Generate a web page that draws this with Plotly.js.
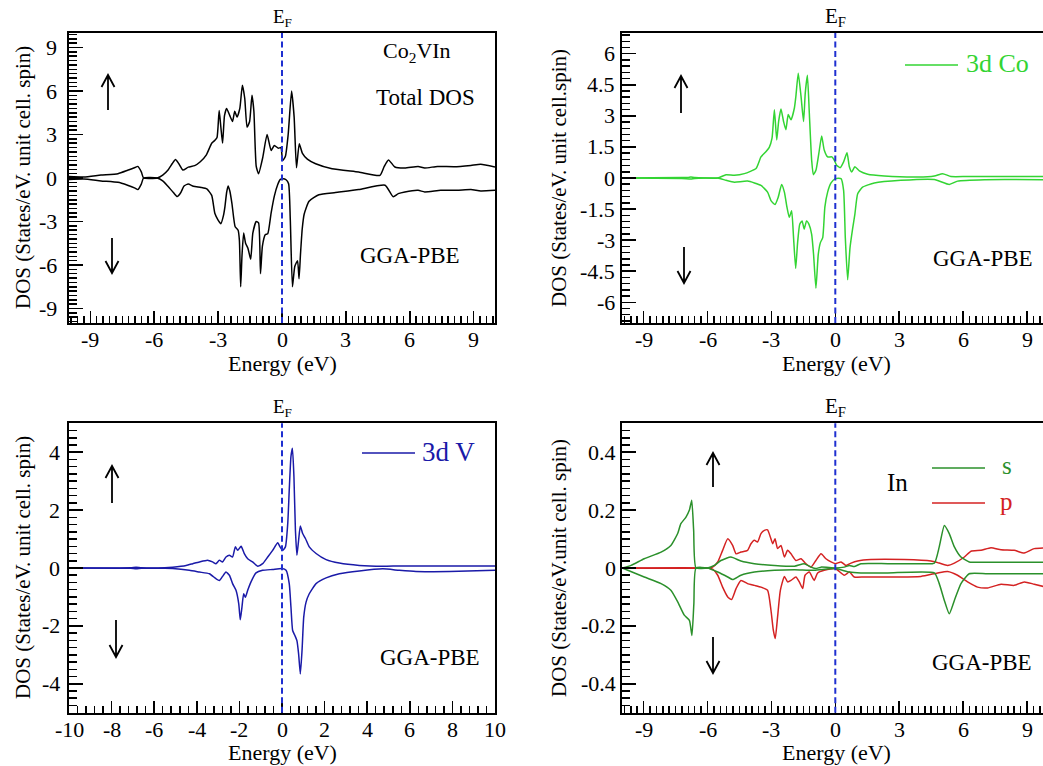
<!DOCTYPE html>
<html>
<head>
<meta charset="utf-8">
<script src="https://cdn.plot.ly/plotly-3.0.1.min.js"></script>
<style>
  html, body { margin: 0; padding: 0; overflow: hidden; background: #fff; }
  #plot { width: 1050px; height: 766px; }
</style>
</head>
<body>
<div id="plot"></div>
<script>
// ---------- Co2VIn density of states (GGA-PBE) ----------

// Total DOS, spin up / spin down
const totalUpE = [-10, -9.3, -8.5, -7.7, -7.25, -6.9, -6.77, -6.6, -6.5, -5.86, -5.6, -5.35, -5.15, -5.0, -4.85, -4.65, -4.4, -4.1, -3.85, -3.55, -3.3, -3.15, -3.05, -2.95, -2.87, -2.79, -2.7, -2.6, -2.45, -2.32, -2.22, -2.11, -1.98, -1.86, -1.75, -1.64, -1.52, -1.41, -1.32, -1.21, -1.1, -0.9, -0.7, -0.51, -0.36, -0.17, -0.05, 0.03, 0.16, 0.29, 0.45, 0.57, 0.68, 0.81, 0.96, 1.19, 1.58, 2.35, 3.6, 4.6, 4.8, 5.0, 5.3, 5.77, 6.39, 6.7, 7.3, 8.09, 8.87, 9.33, 10];
const totalUp  = [0.1, 0.07, 0.2, 0.3, 0.53, 0.72, 0.8, 0.4, 0.0, 0.0, 0.2, 0.55, 1.0, 1.28, 1.0, 0.55, 0.75, 0.85, 1.1, 1.6, 2.4, 2.6, 2.8, 4.65, 3.5, 2.4, 4.3, 4.8, 4.3, 3.9, 4.6, 4.2, 4.8, 6.4, 5.5, 3.5, 3.9, 5.7, 4.6, 0.8, 0.3, 1.44, 3.0, 1.9, 2.24, 2.05, 2.1, 1.2, 1.5, 3.0, 6.0, 4.2, 0.7, 2.36, 1.7, 1.3, 0.98, 0.64, 0.41, 0.18, 0.8, 1.25, 0.76, 0.69, 0.8, 0.69, 0.8, 0.78, 0.87, 0.94, 0.76];
const totalDnE = [-10, -9.3, -8.5, -7.7, -7.25, -6.9, -6.77, -6.6, -6.5, -5.86, -5.6, -5.4, -5.1, -4.92, -4.75, -4.6, -4.4, -4.16, -3.8, -3.53, -3.3, -3.15, -3.0, -2.87, -2.75, -2.68, -2.6, -2.53, -2.45, -2.35, -2.2, -2.06, -2.0, -1.94, -1.88, -1.8, -1.71, -1.6, -1.47, -1.37, -1.21, -1.1, -1.01, -0.92, -0.78, -0.67, -0.51, -0.36, -0.2, -0.08, 0.05, 0.19, 0.31, 0.39, 0.49, 0.6, 0.73, 0.8, 0.87, 0.95, 1.04, 1.27, 1.73, 2.51, 3.6, 4.84, 5.22, 5.46, 5.77, 6.39, 6.7, 7.45, 8.22, 8.87, 9.33, 10];
const totalDn  = [-0.1, -0.07, -0.2, -0.3, -0.5, -0.7, -0.8, -0.4, 0, 0, -0.2, -0.5, -1.0, -1.28, -1.0, -0.55, -0.42, -0.57, -0.65, -0.75, -1.2, -2.45, -2.9, -3.15, -2.6, -1.99, -1.0, -0.55, -0.9, -1.76, -3.36, -3.6, -4.3, -7.5, -5.4, -3.8, -4.5, -4.85, -5.6, -3.8, -3.0, -3.1, -6.6, -4.7, -3.9, -3.85, -2.4, -1.25, -0.45, -0.1, -0.05, -0.12, -0.39, -2.9, -7.5, -6.1, -5.7, -6.95, -5.2, -3.5, -2.5, -1.6, -1.15, -1.0, -0.8, -0.5, -1.3, -1.08, -0.96, -0.85, -0.96, -0.85, -0.85, -0.8, -0.89, -0.85];

// Co 3d partial DOS
const coUpE = [-10, -7.2, -6.9, -6.78, -6.6, -5.52, -5.13, -4.74, -4.27, -3.72, -3.49, -3.26, -3.1, -2.97, -2.86, -2.75, -2.66, -2.55, -2.43, -2.32, -2.21, -2.08, -1.92, -1.85, -1.74, -1.61, -1.49, -1.41, -1.31, -1.22, -1.11, -1.03, -0.91, -0.75, -0.64, -0.52, -0.36, -0.16, -0.05, 0.06, 0.23, 0.39, 0.55, 0.66, 0.77, 0.92, 1.13, 1.52, 2.3, 3.87, 4.65, 5.04, 5.43, 6.21, 10];
const coUp  = [0, 0.02, 0.03, 0.05, 0.02, 0, 0.16, 0.13, 0.21, 0.46, 1.02, 1.27, 1.48, 1.92, 3.3, 1.84, 2.73, 3.33, 2.73, 2.33, 3.06, 2.81, 3.38, 3.95, 5.06, 3.95, 2.73, 4.11, 4.96, 3.14, 0.86, 0.16, 0.37, 1.35, 2.03, 1.35, 1.02, 1.02, 0.86, 0.62, 0.5, 0.78, 1.22, 0.54, 0.29, 0.54, 0.34, 0.18, 0.1, 0.05, 0.1, 0.21, 0.07, 0.07, 0.07];
const coDnE = [-10, -7.2, -6.78, -6.6, -5.52, -5.13, -4.74, -4.12, -3.49, -3.18, -3.02, -2.83, -2.68, -2.52, -2.39, -2.27, -2.16, -2.05, -1.96, -1.86, -1.77, -1.67, -1.56, -1.46, -1.35, -1.24, -1.11, -1.02, -0.91, -0.8, -0.7, -0.59, -0.49, -0.36, -0.2, 0, 0.27, 0.39, 0.47, 0.58, 0.69, 0.81, 0.92, 1.05, 1.28, 1.83, 3.08, 4.65, 5.35, 5.74, 7.0, 10];
const coDn  = [0, -0.02, -0.05, -0.02, 0, -0.11, -0.2, -0.15, -0.36, -0.68, -1.09, -1.28, -0.93, -0.31, -0.68, -1.41, -1.9, -1.58, -2.88, -4.37, -3.12, -2.23, -2.07, -2.47, -2.07, -2.23, -2.72, -3.69, -5.32, -3.69, -3.12, -2.88, -1.41, -0.68, -0.24, -0.03, -0.03, -0.6, -2.88, -4.91, -3.37, -2.47, -1.74, -0.76, -0.44, -0.24, -0.11, -0.07, -0.31, -0.15, -0.08, -0.08];

// V 3d partial DOS
const vUpE = [-10, -7.1, -6.85, -6.6, -5.5, -5.13, -4.5, -4.19, -3.88, -3.49, -3.26, -3.1, -2.94, -2.79, -2.63, -2.47, -2.32, -2.19, -2.08, -1.92, -1.77, -1.61, -1.38, -1.14, -0.91, -0.67, -0.44, -0.2, -0.09, 0.03, 0.16, 0.27, 0.34, 0.42, 0.49, 0.56, 0.63, 0.7, 0.78, 0.86, 0.97, 1.1, 1.28, 1.6, 2.07, 2.69, 3.63, 4.73, 5.51, 7.07, 10];
const vUp  = [0, 0.01, 0.03, 0.01, 0.01, 0.03, 0.09, 0.15, 0.21, 0.27, 0.21, 0.15, 0.27, 0.21, 0.38, 0.44, 0.38, 0.73, 0.61, 0.75, 0.5, 0.32, 0.21, 0.06, 0.15, 0.38, 0.61, 0.87, 0.73, 0.61, 0.73, 1.54, 2.69, 3.85, 4.14, 3.16, 1.31, 0.44, 0.96, 1.45, 1.19, 1.02, 0.73, 0.5, 0.29, 0.17, 0.09, 0.06, 0.07, 0.07, 0.07];
const vDnE = [-10, -7.1, -6.85, -6.6, -5.5, -5.13, -4.35, -3.88, -3.41, -3.1, -2.94, -2.79, -2.63, -2.47, -2.32, -2.16, -2.03, -1.96, -1.88, -1.8, -1.72, -1.61, -1.46, -1.22, -0.91, -0.44, 0, 0.19, 0.34, 0.42, 0.5, 0.61, 0.7, 0.78, 0.86, 0.94, 1.02, 1.13, 1.28, 1.6, 2.07, 2.69, 3.63, 4.73, 5.51, 6.29, 7.86, 10];
const vDn  = [0, -0.01, -0.03, -0.01, -0.01, -0.02, -0.08, -0.14, -0.2, -0.37, -0.43, -0.29, -0.14, -0.25, -0.54, -0.77, -1.24, -1.79, -1.35, -0.89, -1.01, -0.77, -0.49, -0.17, -0.08, -0.05, -0.02, -0.08, -0.54, -1.35, -2.16, -2.34, -2.51, -2.97, -3.66, -2.86, -1.7, -1.18, -0.89, -0.54, -0.34, -0.2, -0.1, -0.03, -0.08, -0.12, -0.12, -0.08];

// In s and p partial DOS
const inSUpE = [-10, -9.59, -8.97, -8.18, -7.72, -7.4, -7.25, -7.01, -6.85, -6.74, -6.65, -6.54, -6.0, -5.68, -5.37, -4.9, -4.43, -3.8, -2.86, -1.92, -1.46, -1.14, -0.91, -0.67, 0, 0.42, 0.66, 0.89, 1.2, 2.46, 4.02, 4.65, 4.88, 5.12, 5.35, 5.59, 5.9, 6.29, 7.15, 10];
const inSUp  = [0, 0.009, 0.032, 0.055, 0.078, 0.119, 0.153, 0.176, 0.2, 0.234, 0.13, 0, 0, 0.009, 0.026, 0.038, 0.024, 0.015, 0.009, 0.006, 0.015, 0.003, -0.002, 0.003, 0, 0.003, 0.009, 0.005, 0.015, 0.015, 0.015, 0.017, 0.073, 0.147, 0.119, 0.073, 0.038, 0.021, 0.02, 0.02];
const inSDnE = [-10, -8.97, -8.18, -7.72, -7.4, -7.09, -6.85, -6.73, -6.64, -6.54, -6.0, -5.52, -5.05, -4.82, -4.43, -3.8, -2.86, -1.92, -0.99, 0, 0.66, 1.2, 2.46, 4.65, 4.88, 5.12, 5.35, 5.59, 5.9, 6.29, 7.15, 10];
const inSDn  = [0, -0.031, -0.054, -0.077, -0.117, -0.163, -0.181, -0.233, -0.123, 0, 0, -0.014, -0.031, -0.04, -0.025, -0.014, -0.008, -0.006, -0.008, -0.002, -0.014, -0.017, -0.017, -0.017, -0.054, -0.112, -0.158, -0.112, -0.054, -0.02, -0.02, -0.02];
const inPUpE = [-10, -6.0, -5.76, -5.52, -5.29, -5.05, -4.82, -4.66, -4.43, -4.12, -3.96, -3.8, -3.65, -3.49, -3.33, -3.18, -3.05, -2.94, -2.83, -2.71, -2.55, -2.39, -2.24, -2.08, -1.85, -1.61, -1.38, -1.14, -0.91, -0.67, -0.44, -0.2, 0, 0.27, 0.5, 0.74, 1.05, 1.67, 3.24, 4.49, 4.88, 5.27, 5.59, 6.06, 6.37, 6.84, 7.31, 7.78, 8.4, 8.87, 9.34, 10];
const inPUp  = [0, 0, 0.003, 0.021, 0.061, 0.101, 0.078, 0.049, 0.055, 0.061, 0.084, 0.096, 0.09, 0.119, 0.13, 0.132, 0.107, 0.084, 0.101, 0.067, 0.078, 0.038, 0.061, 0.049, 0.026, 0.032, 0.015, 0.003, 0.026, 0.049, 0.032, 0.021, 0.015, 0.021, 0.009, 0.017, 0.024, 0.029, 0.029, 0.024, 0.017, 0.009, 0.017, 0.038, 0.058, 0.061, 0.07, 0.063, 0.061, 0.052, 0.067, 0.07];
const inPDnE = [-10, -6.0, -5.76, -5.52, -5.29, -5.05, -4.87, -4.66, -4.43, -4.12, -3.8, -3.49, -3.18, -3.02, -2.91, -2.82, -2.71, -2.58, -2.39, -2.24, -2.08, -1.85, -1.69, -1.53, -1.42, -1.22, -0.99, -0.83, -0.52, 0, 0.42, 0.66, 0.89, 1.36, 2.46, 4.02, 4.8, 5.27, 5.74, 6.21, 6.68, 7.15, 7.78, 8.4, 8.87, 9.34, 10];
const inPDn  = [0, 0, -0.004, -0.025, -0.066, -0.1, -0.109, -0.071, -0.043, -0.054, -0.06, -0.066, -0.077, -0.146, -0.215, -0.244, -0.169, -0.077, -0.029, -0.048, -0.043, -0.031, -0.048, -0.071, -0.025, -0.014, -0.043, -0.017, -0.008, -0.002, -0.025, -0.014, -0.031, -0.031, -0.031, -0.029, -0.017, -0.012, -0.025, -0.048, -0.066, -0.069, -0.056, -0.06, -0.048, -0.056, -0.068];

// Tick values
const energyTicks3 = [-9, -6, -3, 0, 3, 6, 9];
const energyTicks2 = [-10, -8, -6, -4, -2, 0, 2, 4, 6, 8, 10];
const totalTicks = [-9, -6, -3, 0, 3, 6, 9];
const coTicks = [-6, -4.5, -3, -1.5, 0, 1.5, 3, 4.5, 6];
const vTicks = [-4, -2, 0, 2, 4];
const inTicks = [-0.4, -0.2, 0, 0.2, 0.4];

// ---------- page geometry (pixels on a 1050 x 766 sheet) ----------
const W = 1050, H = 766;
const px = v => v / W;
const py = v => 1 - v / H;
const SERIF = '"Liberation Serif", "Times New Roman", serif';
const TICK_SIZE = 22;

const COL = { left: [69, 495], right: [622.3, 1048.3] };
const ROW = { top: [33, 323], bottom: [423.3, 712.7] };

const C_TOTAL = '#000000', C_CO = '#33d433', C_V = '#1a1aa8',
      C_S = '#2b902b', C_P = '#d42222', C_EF = '#1f2fd0';

function xAxis(col, row, anchor, ticks, minorStep) {
  return {
    domain: [px(col[0]), px(col[1])], anchor: anchor, range: [-10, 10],
    tickmode: 'array', tickvals: ticks, showticklabels: false,
    ticks: 'inside', ticklen: 12, tickwidth: 1.5, tickcolor: '#000',
    minor: { ticks: 'inside', dtick: minorStep, tick0: 0, ticklen: 7, tickwidth: 1.5, tickcolor: '#000' },
    showline: true, linecolor: '#000', linewidth: 2, mirror: true,
    showgrid: false, zeroline: false, fixedrange: true
  };
}
function yAxis(col, row, anchor, range, ticks, minorStep) {
  return {
    domain: [py(row[1]), py(row[0])], anchor: anchor, range: range,
    tickmode: 'array', tickvals: ticks, showticklabels: false,
    ticks: 'inside', ticklen: 14, tickwidth: 1.5, tickcolor: '#000',
    minor: { ticks: 'inside', dtick: minorStep, tick0: 0, ticklen: 8, tickwidth: 1.5, tickcolor: '#000' },
    showline: true, linecolor: '#000', linewidth: 2, mirror: true,
    showgrid: false, zeroline: false, fixedrange: true
  };
}

// tick labels placed through each axis' own scale, written with a plain hyphen minus
function xTickLabels(s, ticks, row) {
  return ticks.map(v => ({ text: String(v), xref: 'x' + s, yref: 'paper', x: v, y: py(row[1] + 16.5),
    xanchor: 'center', yanchor: 'middle', showarrow: false, borderpad: 0,
    font: { family: SERIF, size: TICK_SIZE, color: '#000' } }));
}
function yTickLabels(s, ticks, col, gap) {
  return ticks.map(v => ({ text: String(v), xref: 'paper', yref: 'y' + s, x: px(col[0] - gap), y: v,
    xanchor: 'right', yanchor: 'middle', showarrow: false, borderpad: 0,
    font: { family: SERIF, size: TICK_SIZE, color: '#000' } }));
}

function curve(x, y, color, xa, ya) {
  return { x: x, y: y, xaxis: xa, yaxis: ya, type: 'scatter', mode: 'lines',
           line: { color: color, width: 1.5, shape: 'spline', smoothing: 0.5 },
           hoverinfo: 'skip', showlegend: false };
}

const data = [
  curve(totalUpE, totalUp, C_TOTAL, 'x', 'y'),
  curve(totalDnE, totalDn, C_TOTAL, 'x', 'y'),
  curve(coUpE, coUp, C_CO, 'x2', 'y2'),
  curve(coDnE, coDn, C_CO, 'x2', 'y2'),
  curve(vUpE, vUp, C_V, 'x3', 'y3'),
  curve(vDnE, vDn, C_V, 'x3', 'y3'),
  curve(inPUpE, inPUp, C_P, 'x4', 'y4'),
  curve(inPDnE, inPDn, C_P, 'x4', 'y4'),
  curve(inSUpE, inSUp, C_S, 'x4', 'y4'),
  curve(inSDnE, inSDn, C_S, 'x4', 'y4')
];

// Fermi level marker in every panel
const efLines = ['', '2', '3', '4'].map(s => ({
  type: 'line', xref: 'x' + s, yref: 'y' + s + ' domain', x0: 0, x1: 0, y0: 0, y1: 1,
  line: { color: C_EF, width: 2, dash: '6px,3.5px' }, layer: 'above'
}));

// short legend strokes
const keyLines = [
  { x0: 905, x1: 958, y: 65, color: C_CO },
  { x0: 362, x1: 415, y: 453, color: C_V },
  { x0: 932, x1: 985, y: 468, color: C_S },
  { x0: 932, x1: 985, y: 503, color: C_P }
].map(k => ({
  type: 'line', xref: 'paper', yref: 'paper', x0: px(k.x0), x1: px(k.x1), y0: py(k.y), y1: py(k.y),
  line: { color: k.color, width: 1.6 }
}));

// spin-channel arrows (shaft plus open head)
function arrowShape(x, yHead, yTail) {
  const dir = Math.sign(yTail - yHead);
  const back = yHead + dir * 12;
  return { type: 'path', xref: 'paper', yref: 'paper',
    path: `M ${px(x)},${py(yTail)} L ${px(x)},${py(yHead)} ` +
          `M ${px(x - 6.5)},${py(back)} L ${px(x)},${py(yHead)} L ${px(x + 6.5)},${py(back)}`,
    line: { color: '#000', width: 1.8 } };
}
const arrows = [
  arrowShape(108, 75, 110), arrowShape(112, 273, 238),
  arrowShape(681, 76, 113), arrowShape(684, 283, 247),
  arrowShape(112, 466, 503), arrowShape(116, 657, 620),
  arrowShape(713, 453, 487), arrowShape(713, 673, 637)
];

function label(text, x, y, size, color, extra) {
  return Object.assign({ text: text, xref: 'paper', yref: 'paper', x: px(x), y: py(y),
    xanchor: 'center', yanchor: 'middle', showarrow: false, borderpad: 0,
    font: { family: SERIF, size: size, color: color || '#000' } }, extra || {});
}
function efLabel(s, row, size) {
  return { text: 'E<sub>F</sub>', xref: 'x' + s, yref: 'paper', x: 0, y: py(row[0]),
    xanchor: 'center', yanchor: 'bottom', yshift: 1, showarrow: false,
    font: { family: SERIF, size: size, color: '#000' } };
}

const annotations = [
  // panel titles / labels
  label('Co<sub>2</sub>VIn', 417, 52, 22),
  label('Total DOS', 425, 98, 23),
  label('GGA-PBE', 410, 255, 23),
  label('GGA-PBE', 983, 258, 23),
  label('GGA-PBE', 430, 657, 23),
  label('GGA-PBE', 982, 662, 23),
  label('3d Co', 997, 64, 26, C_CO),
  label('3d V', 448, 452, 27, C_V),
  label('In', 897, 482, 25),
  label('s', 1007, 465, 25, C_S),
  label('p', 1006, 501, 25, C_P),
  // axis titles
  label('Energy (eV)', 282, 363.5, 22),
  label('Energy (eV)', 836, 363.5, 22),
  label('Energy (eV)', 282, 752.5, 22),
  label('Energy (eV)', 836, 752.5, 22),
  label('DOS (States/eV. unit cell. spin)', 23, 178, 21, '#000', { textangle: -90 }),
  label('DOS (States/eV. unit cell.spin)', 559, 178, 21, '#000', { textangle: -90 }),
  label('DOS (States/eV. unit cell. spin)', 23, 568, 21, '#000', { textangle: -90 }),
  label('DOS (States/eV.unit cell. spin)', 559, 568, 21, '#000', { textangle: -90 }),
  // Fermi level labels
  efLabel('', ROW.top, 19),
  efLabel('2', ROW.top, 21),
  efLabel('3', ROW.bottom, 19),
  efLabel('4', ROW.bottom, 21)
].concat(
  xTickLabels('', energyTicks3, ROW.top),
  xTickLabels('2', energyTicks3, ROW.top),
  xTickLabels('3', energyTicks2, ROW.bottom),
  xTickLabels('4', energyTicks3, ROW.bottom),
  yTickLabels('', totalTicks, COL.left, 11),
  yTickLabels('2', coTicks, COL.right, 6),
  yTickLabels('3', vTicks, COL.left, 8),
  yTickLabels('4', inTicks, COL.right, 5)
);

const layout = {
  width: W, height: H,
  margin: { l: 0, r: 0, t: 0, b: 0 },
  paper_bgcolor: '#fff', plot_bgcolor: '#fff',
  showlegend: false,
  xaxis:  xAxis(COL.left,  ROW.top,    'y',  energyTicks3, 0.3),
  yaxis:  yAxis(COL.left,  ROW.top,    'x',  [-10, 10], totalTicks, 0.3),
  xaxis2: xAxis(COL.right, ROW.top,    'y2', energyTicks3, 0.3),
  yaxis2: yAxis(COL.right, ROW.top,    'x2', [-7, 7], coTicks, 0.3),
  xaxis3: xAxis(COL.left,  ROW.bottom, 'y3', energyTicks2, 0.4),
  yaxis3: yAxis(COL.left,  ROW.bottom, 'x3', [-5, 5], vTicks, 0.25),
  xaxis4: xAxis(COL.right, ROW.bottom, 'y4', energyTicks3, 0.3),
  yaxis4: yAxis(COL.right, ROW.bottom, 'x4', [-0.5, 0.5], inTicks, 0.025),
  shapes: efLines.concat(keyLines, arrows),
  annotations: annotations
};

Plotly.newPlot('plot', data, layout, { displayModeBar: false, staticPlot: true });
</script>
</body>
</html>
